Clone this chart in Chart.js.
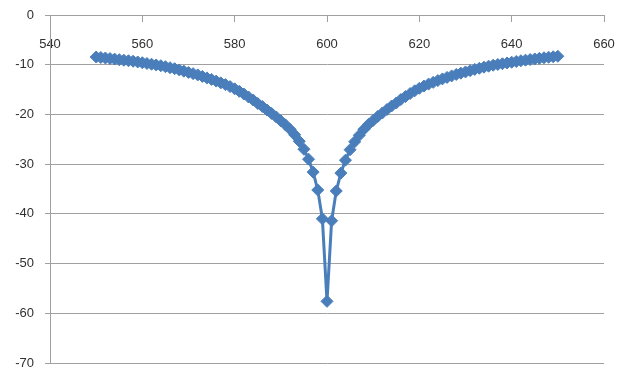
<!DOCTYPE html>
<html>
<head>
  <meta charset="UTF-8">
  <title>Notch</title>
  <script src="https://cdn.jsdelivr.net/npm/chart.js"></script>
  <style>
    html, body { margin: 0; padding: 0; background: #fff; }
    .chart-container { width: 622px; height: 370px; }
  </style>
</head>
<body>
  <div class="chart-container">
    <canvas id="chartCanvas" width="622" height="370"></canvas>
  </div>
  <script>
    // x values (550 .. 650, step 1)
    const xValues = [
      550, 551, 552, 553, 554, 555, 556, 557, 558, 559,
      560, 561, 562, 563, 564, 565, 566, 567, 568, 569,
      570, 571, 572, 573, 574, 575, 576, 577, 578, 579,
      580, 581, 582, 583, 584, 585, 586, 587, 588, 589,
      590, 591, 592, 593, 594, 595, 596, 597, 598, 599,
      600,
      601, 602, 603, 604, 605, 606, 607, 608, 609, 610,
      611, 612, 613, 614, 615, 616, 617, 618, 619, 620,
      621, 622, 623, 624, 625, 626, 627, 628, 629, 630,
      631, 632, 633, 634, 635, 636, 637, 638, 639, 640,
      641, 642, 643, 644, 645, 646, 647, 648, 649, 650
    ];
    // values
    const yValues = [
      -8.45, -8.55, -8.65, -8.76, -8.87, -8.98, -9.1, -9.2, -9.3, -9.45,
      -9.6, -9.75, -9.9, -10.05, -10.2, -10.4, -10.6, -10.8, -11.05, -11.3,
      -11.55, -11.8, -12.05, -12.35, -12.65, -12.95, -13.3, -13.65, -14.0, -14.4,
      -14.85, -15.35, -15.9, -16.5, -17.1, -17.8, -18.4, -19.1, -19.8, -20.5,
      -21.3, -22.1, -23.0, -24.1, -25.4, -27.0, -29.0, -31.6, -35.2, -41.0,
      -57.6,
      -41.4, -35.4, -31.8, -29.2, -27.1, -25.5, -24.2, -23.0, -22.0, -21.2,
      -20.4, -19.7, -19.0, -18.3, -17.7, -17.0, -16.4, -15.8, -15.25, -14.75,
      -14.3, -13.9, -13.55, -13.2, -12.85, -12.55, -12.25, -11.95, -11.7, -11.45,
      -11.2, -10.95, -10.72, -10.5, -10.3, -10.1, -9.95, -9.8, -9.65, -9.5,
      -9.35, -9.2, -9.08, -8.96, -8.84, -8.72, -8.6, -8.5, -8.4, -8.3
    ];
    const xTicks = [540, 560, 580, 600, 620, 640, 660];
    const yTicks = [0, -10, -20, -30, -40, -50, -60, -70];

    const points = xValues.map((x, i) => ({ x: x, y: yValues[i] }));
    const blue = "#4a7ebb";
    const gridGray = "#a0a0a0";
    const labelFont = { family: "'Liberation Sans', Arial, sans-serif", size: 13 };

    new Chart(document.getElementById("chartCanvas"), {
      type: "scatter",
      data: {
        datasets: [{
          data: points,
          showLine: true,
          borderColor: blue,
          borderWidth: 3,
          backgroundColor: blue,
          pointStyle: "rectRot",
          pointRadius: 6,
          pointBorderWidth: 1,
          pointBorderColor: blue,
          pointBackgroundColor: blue,
          tension: 0
        }]
      },
      options: {
        responsive: false,
        animation: false,
        maintainAspectRatio: false,
        layout: { padding: { left: 0, right: 18, top: 15, bottom: 6 } },
        plugins: { legend: { display: false }, tooltip: { enabled: false } },
        scales: {
          x: {
            type: "linear",
            position: { y: 0 },
            min: 540,
            max: 660,
            afterBuildTicks: (s) => { s.ticks = xTicks.map(v => ({ value: v })); },
            afterFit: (s) => {
              s.height = 0;
              s.paddingTop = 0; s.paddingBottom = 0;
              s.paddingLeft = 0; s.paddingRight = 0;
            },
            grid: { drawOnChartArea: false, drawTicks: true, tickLength: 6, color: gridGray },
            border: { display: true, color: gridGray, width: 1 },
            ticks: { font: labelFont, color: "#303030", padding: 16, maxRotation: 0, autoSkip: false }
          },
          y: {
            type: "linear",
            min: -70,
            max: 0,
            afterBuildTicks: (s) => { s.ticks = yTicks.map(v => ({ value: v })); },
            afterFit: (s) => { s.width = 50; s.paddingTop = 0; s.paddingBottom = 0; },
            grid: { color: gridGray, tickLength: 5 },
            border: { display: true, color: gridGray, width: 1 },
            ticks: { font: labelFont, color: "#303030", padding: 11, autoSkip: false }
          }
        }
      }
    });
  </script>
</body>
</html>
